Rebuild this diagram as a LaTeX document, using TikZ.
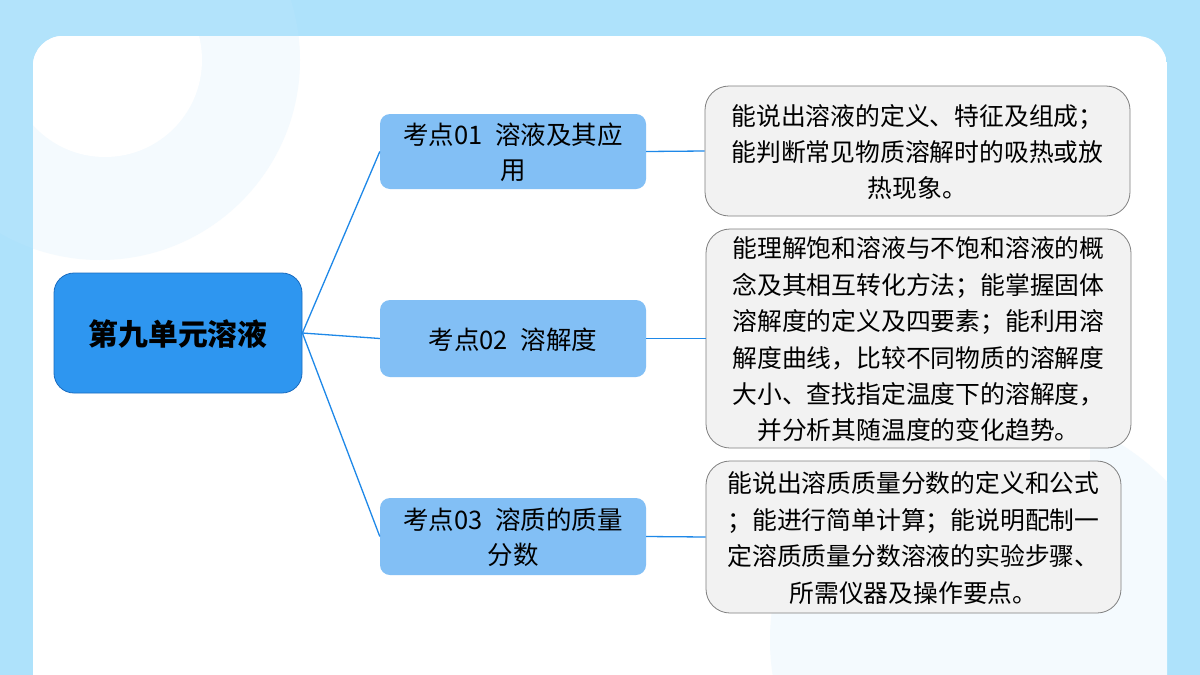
\documentclass[tikz,border=0pt]{standalone}
\usepackage{fontspec}
\setmainfont{Noto Sans CJK SC}
\begin{document}
\begin{tikzpicture}[x=1pt,y=-1pt,
  mainbox/.style={draw=mainborder,line width=0.8pt,fill=mainfill,rounded corners=20pt,minimum width=248pt,minimum height=120pt,text depth=-6pt,font=\fontsize{29.8}{34}\selectfont\bfseries,text=black},
  topicbox/.style={fill=topicfill,rounded corners=10pt,minimum width=266pt,align=center,text depth=-7pt,font=\fontsize{25.5}{35}\selectfont,text=black},
  detailbox/.style={draw=detailborder,line width=0.8pt,fill=detailfill,rounded corners=24pt,align=center,text depth=-7pt,font=\fontsize{24.8}{36.4}\selectfont,text=black},
  link/.style={draw=linkcol,line width=1.3pt}]
\definecolor{bgblue}{HTML}{AEE2FB}
\definecolor{mainfill}{HTML}{2E96F0}
\definecolor{mainborder}{HTML}{1A6CC0}
\definecolor{topicfill}{HTML}{82BFF5}
\definecolor{detailfill}{HTML}{F2F2F2}
\definecolor{detailborder}{HTML}{7F7F7F}
\definecolor{linkcol}{HTML}{1E88E8}
\definecolor{faint}{HTML}{F4FAFE}
\useasboundingbox (0,0) rectangle (1200,675);
\fill[bgblue] (0,0) rectangle (1200,675);
\fill[bgblue!95!white] (100,60) circle (200);
\begin{scope}
\clip[rounded corners=30pt] (33,36) rectangle (1167,720);
\fill[white] (33,36) rectangle (1167,720);
\fill[faint] (100,60) circle (200);
\fill[white] (105,60) circle (97);
\fill[faint] (1000,640) circle (230);
\fill[white] (930,450) circle (160);
\end{scope}
\node[mainbox] (main) at (178,333) {第九单元溶液};
\node[topicbox,minimum height=75pt] (t1) at (513,151.5) {考点01\; 溶液及其应\\用};
\node[topicbox,minimum height=77pt] (t2) at (513,338.5) {考点02\; 溶解度};
\node[topicbox,minimum height=77pt] (t3) at (513,536.5) {考点03\; 溶质的质量\\分数};
\node[detailbox,minimum width=425pt,minimum height=130pt] (d1) at (917.5,151) {能说出溶液的定义、特征及组成；\\能判断常见物质溶解时的吸热或放\\热现象。};
\node[detailbox,minimum width=425pt,minimum height=219pt] (d2) at (918.5,338.5) {能理解饱和溶液与不饱和溶液的概\\念及其相互转化方法；能掌握固体\\溶解度的定义及四要素；能利用溶\\解度曲线，比较不同物质的溶解度\\大小、查找指定温度下的溶解度，\\并分析其随温度的变化趋势。};
\node[detailbox,minimum width=415pt,minimum height=152pt] (d3) at (913.5,537) {能说出溶质质量分数的定义和公式\\；能进行简单计算；能说明配制一\\定溶质质量分数溶液的实验步骤、\\所需仪器及操作要点。};
\draw[link] (main.east) -- (t1.west);
\draw[link] (main.east) -- (t2.west);
\draw[link] (main.east) -- (t3.west);
\draw[link] (t1.east) -- (d1.west);
\draw[link] (t2.east) -- (d2.west);
\draw[link] (t3.east) -- (d3.west);
\end{tikzpicture}
\end{document}
